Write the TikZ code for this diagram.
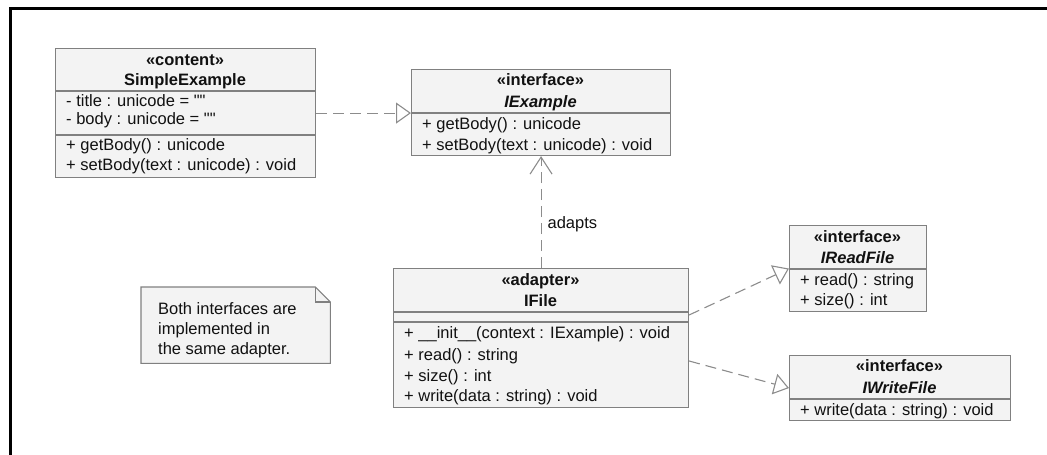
\documentclass[tikz,border=0pt]{standalone}
\usepackage{fontspec}
\setmainfont{Liberation Sans}[Ligatures=TeXOff]
\usetikzlibrary{arrows.meta,calc}
\definecolor{umlborder}{HTML}{808080}
\definecolor{umlfill}{HTML}{F3F3F3}
\definecolor{umlline}{HTML}{8C8C8C}
\definecolor{umltext}{HTML}{111111}

\begin{document}
\begin{tikzpicture}[x=1pt,y=-1pt,
  classbox/.style={draw=umlborder, fill=umlfill, line width=1.1pt, inner sep=0pt, anchor=north west},
  sepline/.style={draw=umlborder, line width=1.1pt},
  member/.style={anchor=base west, inner sep=0pt, text=umltext, font=\fontsize{16.5}{18}\selectfont},
  stereo/.style={anchor=base, inner sep=0pt, text=umltext, font=\fontsize{16.5}{18}\selectfont\bfseries},
  cname/.style={stereo},
  iname/.style={stereo, font=\fontsize{16.5}{18}\selectfont\bfseries\itshape},
  conn/.style={draw=umlline, line width=1.1pt, dash pattern=on 11pt off 6pt},
  realize/.style={conn, -{Triangle[open, length=15pt, width=21pt, line width=1.1pt]}},
  depend/.style={conn, -{Straight Barb[length=17pt, width=22pt, line width=1.1pt]}}
]
\useasboundingbox (0,0) rectangle (1047,455);

% frame of the diagram
\draw[line width=3pt, line join=miter] (10.5,455) -- (10.5,8.5) -- (1047,8.5);

% ---- SimpleExample
\node[classbox, minimum width=260pt, minimum height=129pt] (se) at (55,48) {};
\draw[sepline] (se.west |- 0,91) -- (se.east |- 0,91);
\draw[sepline] (se.west |- 0,135) -- (se.east |- 0,135);
\node[stereo] (se-st) at (185,65) {«content»};
\node[cname] (se-nm) at (185,85) {SimpleExample};
\node[member] (se-a1) at (66,106) {- title : unicode = ""};
\node[member] (se-a2) at (66,124) {- body : unicode = ""};
\node[member] (se-m1) at (66,150) {+ getBody() : unicode};
\node[member] (se-m2) at (66,170) {+ setBody(text : unicode) : void};

% ---- IExample
\node[classbox, minimum width=259pt, minimum height=86pt] (ie) at (411,69) {};
\draw[sepline] (ie.west |- 0,113) -- (ie.east |- 0,113);
\node[stereo] (ie-st) at (540.5,85) {«interface»};
\node[iname] (ie-nm) at (540.5,107) {IExample};
\node[member] (ie-m1) at (422,129) {+ getBody() : unicode};
\node[member] (ie-m2) at (422,150) {+ setBody(text : unicode) : void};

% ---- IFile
\node[classbox, minimum width=295pt, minimum height=139pt] (ifile) at (393,268) {};
\draw[sepline] (ifile.west |- 0,312) -- (ifile.east |- 0,312);
\draw[sepline] (ifile.west |- 0,322) -- (ifile.east |- 0,322);
\node[stereo] (if-st) at (540.5,285) {«adapter»};
\node[cname] (if-nm) at (540.5,306) {IFile};
\node[member] (if-m1) at (404,338) {+ \_\_init\_\_(context : IExample) : void};
\node[member] (if-m2) at (404,360) {+ read() : string};
\node[member] (if-m3) at (404,381) {+ size() : int};
\node[member] (if-m4) at (404,401) {+ write(data : string) : void};

% ---- IReadFile
\node[classbox, minimum width=137pt, minimum height=86pt] (irf) at (789,225) {};
\draw[sepline] (irf.west |- 0,269) -- (irf.east |- 0,269);
\node[stereo] (irf-st) at (857.5,242) {«interface»};
\node[iname] (irf-nm) at (857.5,263) {IReadFile};
\node[member] (irf-m1) at (800,285) {+ read() : string};
\node[member] (irf-m2) at (800,305) {+ size() : int};

% ---- IWriteFile
\node[classbox, minimum width=221pt, minimum height=65pt] (iwf) at (789,355) {};
\draw[sepline] (iwf.west |- 0,399) -- (iwf.east |- 0,399);
\node[stereo] (iwf-st) at (899.5,371) {«interface»};
\node[iname] (iwf-nm) at (899.5,393) {IWriteFile};
\node[member] (iwf-m1) at (800,415) {+ write(data : string) : void};

% ---- note with folded corner
\node[inner sep=0pt, minimum width=189pt, minimum height=76pt, anchor=north west] (note) at (141,287) {};
\draw[sepline, fill=umlfill]
  (note.south west) -- (note.north west) -- ($(note.north east)+(-15,0)$)
  -- ($(note.north east)+(0,15)$) -- (note.south east) -- cycle;
\draw[sepline] ($(note.north east)+(-15,0)$) -- ($(note.north east)+(-15,15)$) -- ($(note.north east)+(0,15)$);
\node[member] (note-l1) at (158,314) {Both interfaces are};
\node[member] (note-l2) at (158,334) {implemented in};
\node[member] (note-l3) at (158,354) {the same adapter.};

% ---- connectors
\draw[realize] (se.east) -- (se.east -| ie.west);
\draw[depend] (ifile.north) -- node[pos=0.38, anchor=mid west, inner sep=0pt, xshift=6pt,
  text=umltext, font=\fontsize{16.5}{18}\selectfont] (adapts) {adapts} (ie.south);
\draw[realize] ($(ifile.north east)+(0,47)$) -- (irf.west);
\draw[realize] ($(ifile.north east)+(0,93)$) -- (iwf.west);
\end{tikzpicture}
\end{document}
